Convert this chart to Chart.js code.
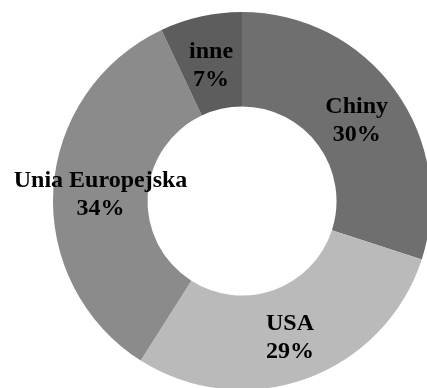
<!DOCTYPE html>
<html>
<head>
<meta charset="utf-8">
<script src="https://cdn.jsdelivr.net/npm/chart.js@4"></script>
<style>
    html, body { margin: 0; padding: 0; background: #fff; overflow: hidden; }
    #wrap { width: 432px; height: 400px; }
</style>
</head>
<body>
<div id="wrap"><canvas id="shareChart"></canvas></div>
<script>
// udziały w procentach, zgodnie z ruchem wskazówek zegara od góry
const labels = ["Chiny", "USA", "Unia Europejska", "inne"];
const shares = [30, 29, 34, 7];
const colors = ["#6f6f6f", "#bababa", "#8b8b8b", "#5d5d5d"];

// etykieta "nazwa / procent" na środku każdego wycinka
const sliceLabels = {
    id: "sliceLabels",
    afterDatasetsDraw(chart) {
        const ctx = chart.ctx;
        const meta = chart.getDatasetMeta(0);
        ctx.save();
        ctx.font = "bold 24px 'Liberation Serif', 'Times New Roman', serif";
        ctx.fillStyle = "#000";
        ctx.textAlign = "center";
        ctx.textBaseline = "middle";
        meta.data.forEach((arc, i) => {
            const pos = arc.tooltipPosition();
            const y = pos.y + 3;
            ctx.fillText(labels[i], pos.x, y - 14);
            ctx.fillText(shares[i] + "%", pos.x, y + 14);
        });
        ctx.restore();
    }
};

new Chart(document.getElementById("shareChart"), {
    type: "doughnut",
    data: {
        labels: labels,
        datasets: [{
            data: shares,
            backgroundColor: colors,
            borderWidth: 0
        }]
    },
    options: {
        responsive: true,
        maintainAspectRatio: false,
        animation: false,
        cutout: "50%",
        layout: { padding: { top: 12, bottom: 10, left: 52, right: 0 } },
        plugins: {
            legend: { display: false },
            tooltip: { enabled: false }
        }
    },
    plugins: [sliceLabels]
});
</script>
</body>
</html>
